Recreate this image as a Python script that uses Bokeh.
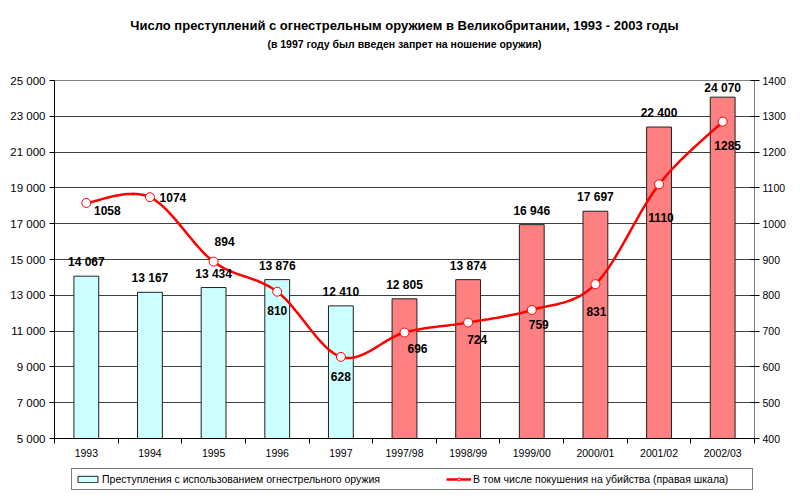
import numpy as np
from bokeh.plotting import figure
from bokeh.layouts import column
from bokeh.core.properties import value
from bokeh.models import (Range1d, LinearAxis, FixedTicker, ColumnDataSource, LabelSet, Title,
                          Legend, LegendItem, CustomJSTickFormatter)
from bokeh.embed import file_html
from bokeh.resources import INLINE

# ---------------- data ----------------
categories = ["1993", "1994", "1995", "1996", "1997", "1997/98", "1998/99",
              "1999/00", "2000/01", "2001/02", "2002/03"]
crimes = [14067, 13167, 13434, 13876, 12410, 12805, 13874, 16946, 17697, 22400, 24070]
attempted = [1058, 1074, 894, 810, 628, 696, 724, 759, 831, 1110, 1285]
bar_colors = ["#CCFFFF"] * 5 + ["#FF8080"] * 6
left_ticks = list(range(5000, 25001, 2000))
right_ticks = list(range(400, 1401, 100))
# label placement (pixels)
bar_lbl_up = [7, 7, 7, 7, 7, 7, 7, 7, 7, 7, 2]
line_lbl_dx = [21, 23, 11, 0, 0, 13, 9, 7, 1, 2, 5]
line_lbl_dy = [8, 0, -20, 19, 20, 16, 17, 15, 27, 33, 24]

title_main = "Число преступлений с огнестрельным оружием в Великобритании, 1993 - 2003 годы"
title_sub = "(в 1997 году был введен запрет на ношение оружия)"
legend_bars = "Преступления с использованием огнестрельного оружия"
legend_line = "В том числе покушения на убийства (правая шкала)"

FONT = "Liberation Sans"
W, H = 792, 462
LEG_H = 28
LEFT, TOP, FW, FH = 54, 80, 700, 358
n = len(categories)
y0, y1 = 5000, 25000
CYAN, PINK, RED = "#CCFFFF", "#FF8080", "#FF0000"

p = figure(width=W, height=H, x_range=Range1d(0, n), y_range=Range1d(y0, y1),
           output_backend="svg", toolbar_location=None, title=None,
           min_border_left=LEFT, min_border_right=W - LEFT - FW,
           min_border_top=TOP, min_border_bottom=H - TOP - FH)
p.extra_y_ranges = {"right": Range1d(400, 1400)}
p.background_fill_color = "white"
p.border_fill_color = "white"
p.outline_line_color = "#808080"

# titles (first added sits nearest to the frame)
p.add_layout(Title(text=" ", text_font=FONT, text_font_size="10px", standoff=15), "above")
p.add_layout(Title(text=title_sub, align="center", text_font=FONT,
                   text_font_size="10.5px", text_font_style="bold", text_color="black",
                   standoff=6), "above")
p.add_layout(Title(text=title_main, align="center", text_font=FONT,
                   text_font_size="13px", text_font_style="bold", text_color="black",
                   standoff=0), "above")

# x axis
xs = [i + 0.5 for i in range(n)]
p.xaxis.ticker = FixedTicker(ticks=xs, minor_ticks=list(range(n + 1)))
p.xaxis.formatter = CustomJSTickFormatter(args=dict(cats=categories),
                                          code="return cats[Math.floor(tick)];")
p.xaxis.major_tick_line_color = None
p.xaxis.major_tick_out = 5
p.xaxis.major_tick_in = 0
p.xaxis.minor_tick_line_color = "black"
p.xaxis.minor_tick_out = 5
p.xaxis.minor_tick_in = 0
p.xaxis.axis_line_color = "black"
p.xaxis.major_label_standoff = 3
p.xaxis.major_label_text_font = FONT
p.xaxis.major_label_text_font_size = "10.5px"
p.xaxis.major_label_text_color = "black"

# left axis
p.yaxis.ticker = FixedTicker(ticks=left_ticks)
p.yaxis.major_label_overrides = {t: f"{t:,}".replace(",", " ") for t in left_ticks}
p.yaxis.minor_tick_line_color = None
p.yaxis.major_tick_out = 5
p.yaxis.major_tick_in = 0
p.yaxis.major_tick_line_color = "black"
p.yaxis.axis_line_color = "black"
p.yaxis.major_label_standoff = 4
p.yaxis.major_label_text_font = FONT
p.yaxis.major_label_text_font_size = "11.5px"
p.yaxis.major_label_text_color = "black"

# right axis
rax = LinearAxis(y_range_name="right", ticker=FixedTicker(ticks=right_ticks))
rax.minor_tick_line_color = None
rax.major_tick_out = 5
rax.major_tick_in = 4
rax.major_tick_line_color = "black"
rax.axis_line_color = "#808080"
rax.major_label_standoff = 3
rax.major_label_text_font = FONT
rax.major_label_text_font_size = "10.5px"
rax.major_label_text_color = "black"
p.add_layout(rax, "right")

# grid
p.xgrid.visible = False
p.ygrid.ticker = FixedTicker(ticks=left_ticks)
p.ygrid.grid_line_color = "#404040"
p.ygrid.grid_line_width = 1

# bars
bar_src = ColumnDataSource(dict(x=xs, top=crimes, color=bar_colors, up=bar_lbl_up,
                                lbl=[f"{v:,}".replace(",", " ") for v in crimes]))
bars = p.vbar(x="x", top="top", bottom=0, width=0.39, fill_color="color",
              line_color="#202020", line_width=1, source=bar_src)
p.add_layout(LabelSet(x="x", y="top", text="lbl", source=bar_src, text_align="center",
                      text_baseline="bottom", y_offset="up", text_font=value(FONT),
                      text_font_size="12px", text_font_style="bold", text_color="black"))

# smoothed line (Catmull-Rom in screen proportions)
kx = FW / n
ky = FH / 1000.0
P = np.array([[x * kx, v * ky] for x, v in zip(xs, attempted)])
sx, sy = [], []
for i in range(n - 1):
    p0 = P[max(i - 1, 0)]
    p1 = P[i]
    p2 = P[i + 1]
    p3 = P[min(i + 2, n - 1)]
    for t in np.linspace(0, 1, 25, endpoint=(i == n - 2)):
        pt = 0.5 * (2 * p1 + (-p0 + p2) * t + (2 * p0 - 5 * p1 + 4 * p2 - p3) * t ** 2
                    + (-p0 + 3 * p1 - 3 * p2 + p3) * t ** 3)
        sx.append(pt[0] / kx)
        sy.append(pt[1] / ky)
p.line(sx, sy, y_range_name="right", line_color=RED, line_width=2.5)
line_src = ColumnDataSource(dict(x=xs, y=attempted, lbl=[str(v) for v in attempted],
                                 dx=line_lbl_dx, dy=[-d for d in line_lbl_dy]))
p.scatter(x="x", y="y", source=line_src, y_range_name="right", size=9,
          fill_color="white", line_color=RED, line_width=1)
p.add_layout(LabelSet(x="x", y="y", text="lbl", source=line_src, y_range_name="right",
                      x_offset="dx", y_offset="dy", text_align="center",
                      text_baseline="middle", text_font=value(FONT), text_font_size="12px",
                      text_font_style="bold", text_color="black"))

# legend strip (separate small figure below the chart; its frame aligns with the chart's)
lf = figure(width=W, height=LEG_H, x_range=Range1d(0, 1), y_range=Range1d(0, 1),
            output_backend="svg", toolbar_location=None, x_axis_type=None, y_axis_type=None,
            min_border=0, outline_line_color=None)
lf.background_fill_color = "white"
lf.border_fill_color = "white"
nan = [float("nan")]
lg_bar = lf.vbar(x=nan, top=nan, width=0.5, fill_color=CYAN, line_color="#202020",
                 line_width=1)
lg_line = lf.line(nan, nan, line_color=RED, line_width=2.5)
lg_mark = lf.scatter(nan, nan, size=7, fill_color="white", line_color=RED, line_width=1)
legend = Legend(items=[LegendItem(label=legend_bars, renderers=[lg_bar], index=0),
                       LegendItem(label=legend_line, renderers=[lg_line, lg_mark], index=0)],
                location=(17, 0), orientation="horizontal",
                label_text_font=FONT, label_text_font_size="10.5px", label_text_color="black",
                glyph_width=25, glyph_height=8, label_height=14, label_width=276,
                label_standoff=2, spacing=66, padding=3, margin=0,
                border_line_color="black", border_line_width=1,
                background_fill_color="white", background_fill_alpha=1)
lf.add_layout(legend)

layout = column(p, lf, spacing=0)
open("out.html", "w").write(file_html(layout, INLINE))
